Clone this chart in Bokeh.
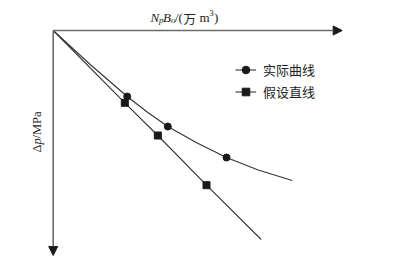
from bokeh.plotting import figure
from bokeh.models import Range1d, Arrow, NormalHead, Label, Legend, LegendItem
from bokeh.embed import file_html
from bokeh.resources import INLINE
import math

# Actual (curved) relation: N_p*B_o vs delta p (schematic units)
curve_x = [0, 3.7, 7.4, 9.4, 11.46, 14.3, 17.33, 20.5, 23.9]
curve_y = [0, 3.4, 6.6, 8.15, 9.6, 11.2, 12.7, 13.95, 15.0]
curve_pts_x = [7.4, 11.46, 17.33]
curve_pts_y = [6.6, 9.6, 12.7]

# Assumed straight line
line_x = [0, 7.16, 10.46, 15.33, 20.8]
line_y = [0, 7.23, 10.5, 15.47, 20.9]
line_pts_x = [7.16, 10.46, 15.33]
line_pts_y = [7.23, 10.5, 15.47]

labels = ["实际曲线", "假设直线"]

SERIF = "Liberation Serif"
CJK = "Noto Sans CJK SC"
INK = "#1a1a1a"

p = figure(width=397, height=268, output_backend="svg", toolbar_location=None,
           x_axis_type=None, y_axis_type=None, min_border=0,
           x_range=Range1d(-5.27, 34.43), y_range=Range1d(23.8, -3.0))
p.outline_line_color = None
p.grid.visible = False
p.background_fill_color = "white"

# axes as arrows
p.add_layout(Arrow(x_start=0, y_start=0, x_end=28.9, y_end=0,
                   line_color="#6b6b6b", line_width=1.6,
                   end=NormalHead(size=9, fill_color=INK, line_color=INK)))
p.add_layout(Arrow(x_start=0, y_start=0, x_end=0, y_end=22.5,
                   line_color="#6b6b6b", line_width=1.6,
                   end=NormalHead(size=9, fill_color=INK, line_color=INK)))

r_cl = p.line(curve_x, curve_y, line_color="#333333", line_width=1.1)
r_cm = p.scatter(curve_pts_x, curve_pts_y, marker="circle", size=7,
                 fill_color=INK, line_color=INK)
r_ll = p.line(line_x, line_y, line_color="#333333", line_width=1.1)
r_lm = p.scatter(line_pts_x, line_pts_y, marker="square", size=7,
                 fill_color=INK, line_color=INK)

legend = Legend(items=[LegendItem(label=labels[0], renderers=[r_cl, r_cm]),
                       LegendItem(label=labels[1], renderers=[r_ll, r_lm])],
                location=(235, 167), border_line_color=None,
                background_fill_alpha=0, padding=0, margin=0, spacing=3,
                glyph_width=21, glyph_height=19, label_height=19,
                label_standoff=7, label_text_font=CJK,
                label_text_font_size="13px", label_text_color="#222222")
p.add_layout(legend)


def lab(x, y, t, size="12px", style="normal", font=SERIF, angle=0, baseline="alphabetic"):
    p.add_layout(Label(x=x, y=y, text=t, text_font=font, text_font_size=size,
                       text_font_style=style, text_color="#222222", angle=angle,
                       text_baseline=baseline, text_align="left"))


def px(x):
    return (x - 52.7) / 10.0


def py(y):
    return (y - 30.0) / 10.0


# x label: N_pB_o/(万 m³)
lab(px(150), py(17), "N", "13px", "italic")
lab(px(158.5), py(19.5), "p", "9px", "italic")
lab(px(162.5), py(17), "B", "13px", "italic")
lab(px(170.5), py(19.5), "o", "9px", "italic")
lab(px(174.5), py(17), "/(", "13px")
lab(px(183), py(17.5), "万", "12.5px", font=CJK)
lab(px(199), py(17), "m", "13px")
lab(px(209), py(12), "3", "8.5px")
lab(px(213.5), py(17), ")", "13px")

# y label: Δp/MPa (rotated)
lab(px(36), py(152), "Δ", "12.5px", angle=math.pi/2)
lab(px(36), py(144), "p", "12.5px", "italic", angle=math.pi/2)
lab(px(36), py(138), "/MPa", "12.5px", angle=math.pi/2)

open("out.html", "w").write(file_html(p, INLINE))
